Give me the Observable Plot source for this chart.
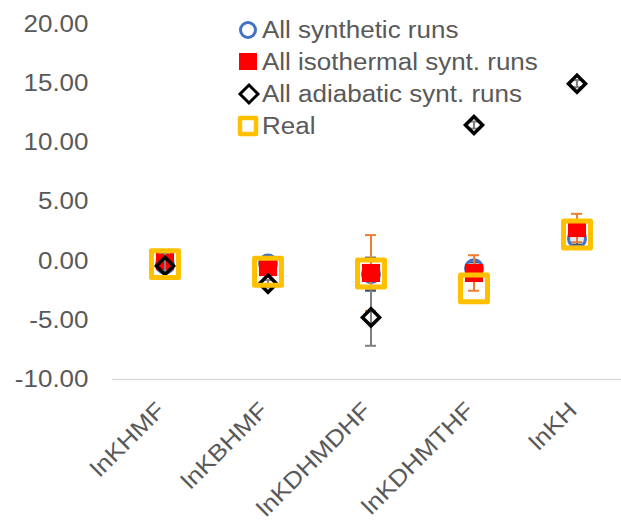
<!DOCTYPE html>
<html><head><meta charset="utf-8">
<script src="https://cdn.jsdelivr.net/npm/d3@7"></script>
<script src="https://cdn.jsdelivr.net/npm/@observablehq/plot@0.6"></script>
<style>
body{margin:0;background:#fff;}
#wrap{position:relative;width:621px;height:520px;overflow:hidden;background:#fff;}
#legend{position:absolute;left:0;top:0;}
</style></head><body><div id="wrap"></div>
<script>
const categories = ["lnKHMF", "lnKBHMF", "lnKDHMDHF", "lnKDHMTHF", "lnKH"];
const yTicks = [-10, -5, 0, 5, 10, 15, 20];
const synthetic = [-0.3, -0.2, -1.1, -0.6, 1.9];
const syntheticErr = [0.2, 0.3, 1.4, 0.5, 0.5];
const isothermal = [0.0, -0.5, -1.0, -1.0, 2.8];
const isothermalErr = [0.2, 0.3, 3.2, 1.5, 1.2];
const adiabatic = [-0.4, -1.9, -4.75, 11.5, 15.0];
const adiabaticErr = [1.1, 0.3, 2.4, 0.3, 0.3];
const real = [-0.25, -0.9, -1.05, -2.3, 2.25];
const legendLabels = ["All synthetic runs", "All isothermal synt. runs", "All adiabatic synt. runs", "Real"];

const rowsOf = (vals, errs) => categories.map((c, i) => ({cat: c, v: vals[i], e: errs ? errs[i] : 0}));
const synRows = rowsOf(synthetic, syntheticErr);
const isoRows = rowsOf(isothermal, isothermalErr);
const adiRows = rowsOf(adiabatic, adiabaticErr);
const realRows = rowsOf(real);

function errMarks(rows, color) {
  return [
    Plot.ruleX(rows, {x: "cat", y1: d => d.v - d.e, y2: d => d.v + d.e, stroke: color, strokeWidth: 2}),
    Plot.tickY(rows, {x: "cat", y: d => d.v + d.e, stroke: color, strokeWidth: 2, insetLeft: 46, insetRight: 46}),
    Plot.tickY(rows, {x: "cat", y: d => d.v - d.e, stroke: color, strokeWidth: 2, insetLeft: 46, insetRight: 46})
  ];
}

const chart = Plot.plot({
  width: 621, height: 520,
  marginLeft: 112, marginRight: 0, marginTop: 24, marginBottom: 141,
  style: {fontFamily: "'Liberation Sans', Arial, sans-serif", fontSize: "23px", color: "#595959", background: "#fff"},
  x: {domain: categories, range: [111, 629], padding: 0, label: null, tickSize: 0, tickRotate: -45, tickPadding: 14},
  y: {domain: [-10, 20], ticks: yTicks, tickFormat: d => d.toFixed(2), tickSize: 0, tickPadding: 24, label: null},
  marks: [
    Plot.ruleY([-10], {stroke: "#d9d9d9", strokeWidth: 1.5}),
    ...errMarks(synRows, "#44546A"),
    Plot.dot(synRows, {x: "cat", y: "v", r: 8.5, stroke: "#4472C4", strokeWidth: 3, fill: "#4472C4", fillOpacity: 0.15}),
    ...errMarks(isoRows, "#ED7D31"),
    Plot.dot(isoRows, {x: "cat", y: "v", symbol: "square", r: 10.2, fill: "#FF0000", stroke: "none"}),
    ...errMarks(adiRows, "#7F7F7F"),
    Plot.dot(adiRows, {x: "cat", y: "v", symbol: "diamond2", r: 7.7, stroke: "#000", strokeWidth: 3.5, fill: "none"}),
    Plot.dot(realRows, {x: "cat", y: "v", symbol: "square", r: 15.2, stroke: "#FFC000", strokeWidth: 5, fill: "none", strokeLinejoin: "round"})
  ]
});

chart.querySelectorAll("text").forEach(t => {
  let tr = t.getAttribute("transform") || "";
  const xa = t.getAttribute("x");
  if (xa && !isNaN(+xa)) { tr += ` translate(${+xa},0)`; t.removeAttribute("x"); }
  if (tr.includes("rotate")) tr = "translate(-4,13) " + tr;
  t.setAttribute("transform", tr + " scale(1.13,1)");
});

const wrap = document.getElementById("wrap");
wrap.appendChild(chart);

// Legend overlay
const ns = "http://www.w3.org/2000/svg";
const leg = document.createElementNS(ns, "svg");
leg.setAttribute("id", "legend");
leg.setAttribute("width", 621);
leg.setAttribute("height", 150);
const rowY = [30, 62, 94, 126];
const el = (name, attrs) => { const e = document.createElementNS(ns, name); for (const k in attrs) e.setAttribute(k, attrs[k]); leg.appendChild(e); return e; };
el("circle", {cx: 248, cy: rowY[0], r: 7.5, fill: "none", stroke: "#4472C4", "stroke-width": 3});
el("rect", {x: 239, y: rowY[1] - 9, width: 18, height: 17, fill: "#FF0000"});
el("path", {d: `M249,${rowY[2]-9}L258,${rowY[2]}L249,${rowY[2]+9}L240,${rowY[2]}Z`, fill: "none", stroke: "#000", "stroke-width": 3});
el("rect", {x: 240, y: rowY[3] - 8, width: 16, height: 16, fill: "none", stroke: "#FFC000", "stroke-width": 4.5, "stroke-linejoin": "round"});
legendLabels.forEach((s, i) => {
  const t = el("text", {transform: `translate(262,${rowY[i] + 8}) scale(1.13,1)`, fill: "#595959", "font-family": "'Liberation Sans', Arial, sans-serif", "font-size": "23px"});
  t.textContent = s;
});
wrap.appendChild(leg);
</script></body></html>
